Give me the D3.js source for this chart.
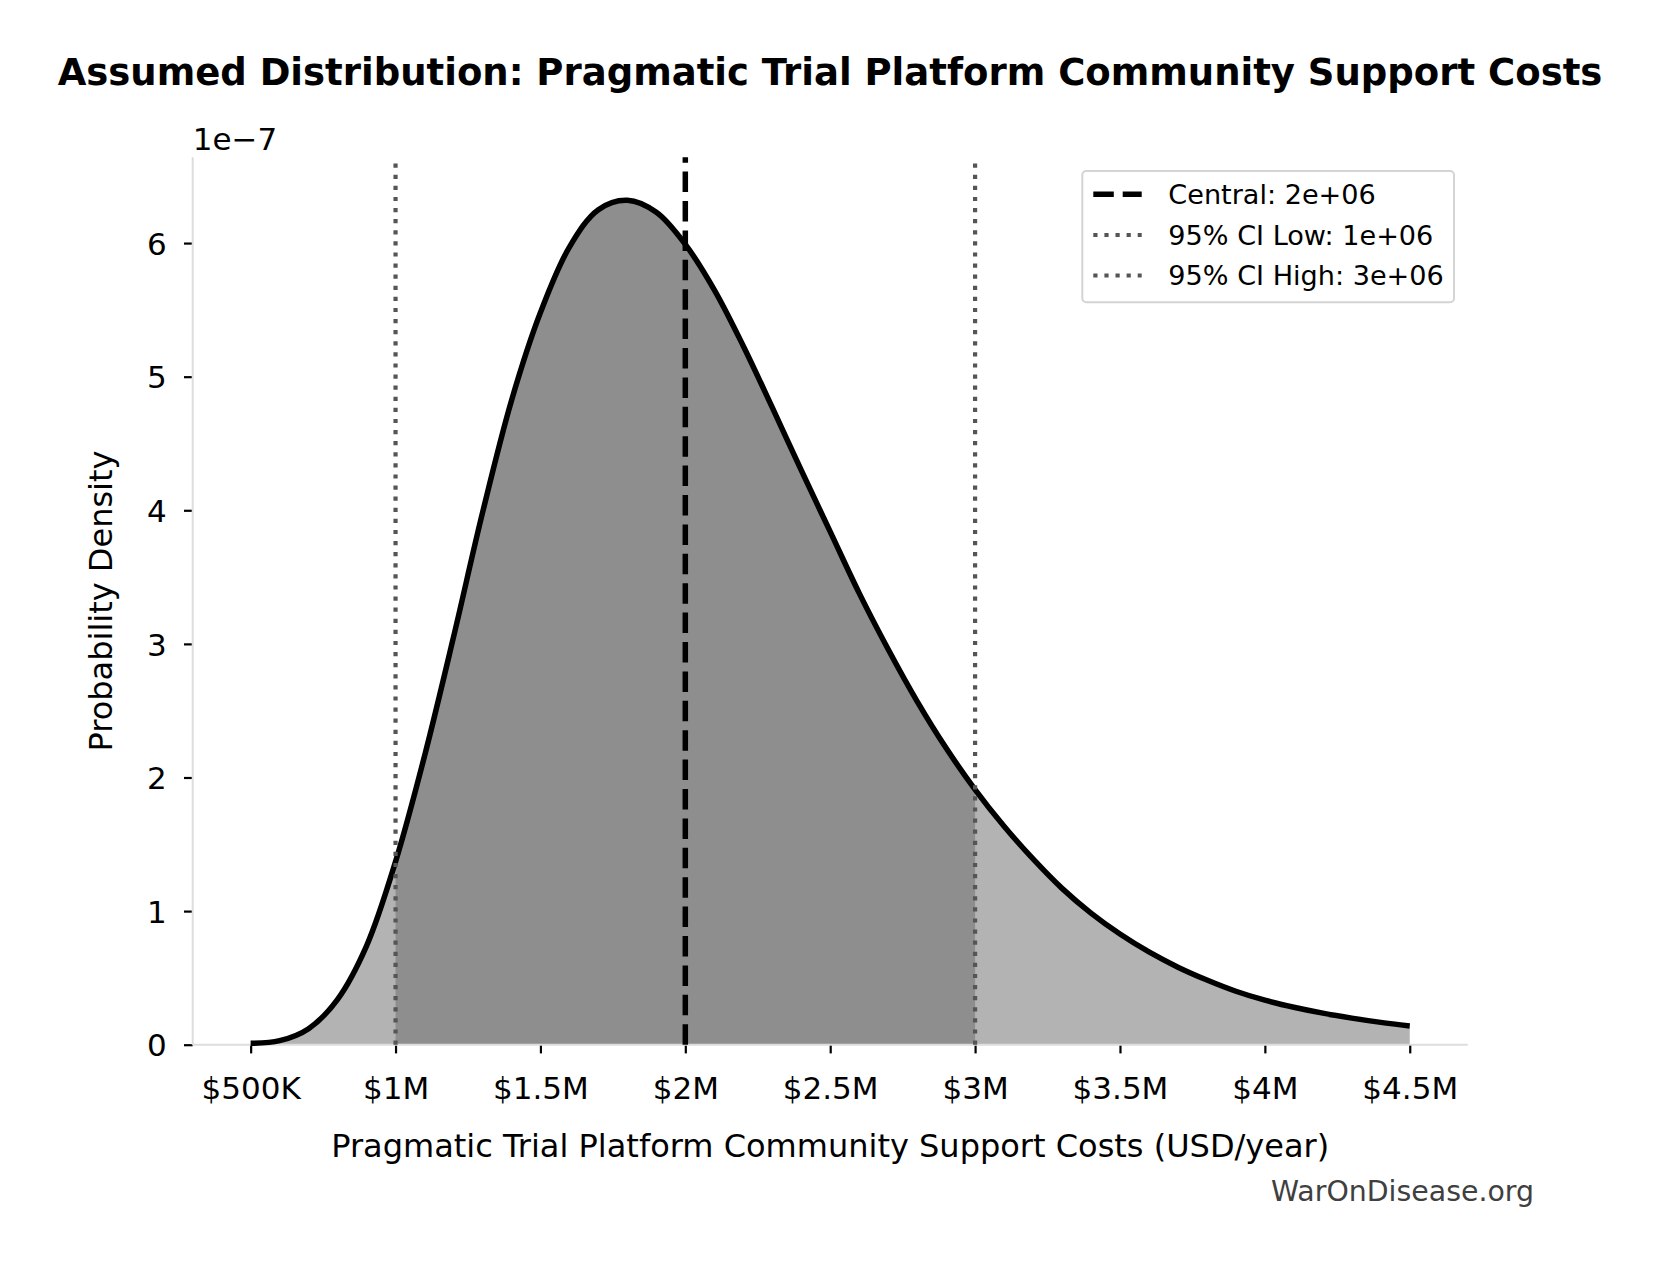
<!DOCTYPE html>
<html>
<head>
<meta charset="utf-8">
<script src="https://cdn.jsdelivr.net/npm/d3@7"></script>
<style>
  html, body { margin: 0; padding: 0; background: #ffffff; }
  svg { display: block; font-family: "DejaVu Sans", sans-serif; }
</style>
</head>
<body>
<svg id="chart" width="1660" height="1266"></svg>
<script>
// ---------------- data ----------------
const costUSD = [
  500000, 600000, 700000, 800000, 900000, 1000000, 1100000, 1200000, 1300000, 1400000,
  1500000, 1600000, 1700000, 1800000, 1900000, 2000000, 2100000, 2200000, 2300000, 2400000,
  2500000, 2600000, 2700000, 2800000, 2900000, 3000000, 3100000, 3200000, 3300000, 3400000,
  3500000, 3600000, 3700000, 3800000, 3900000, 4000000, 4100000, 4200000, 4300000, 4400000,
  4500000
];
// probability density, in units of 1e-7
const densityE7 = [
  0.01, 0.03, 0.12, 0.34, 0.74, 1.37, 2.16, 3.05, 3.98, 4.82,
  5.48, 5.97, 6.25, 6.32, 6.23, 5.99, 5.65, 5.23, 4.77, 4.30,
  3.84, 3.38, 2.96, 2.57, 2.22, 1.91, 1.635, 1.39, 1.17, 0.985,
  0.828, 0.694, 0.58, 0.484, 0.40, 0.333, 0.28, 0.236, 0.199, 0.167,
  0.14
];
const centralValue = 2000000;
const ciLow = 1000000;
const ciHigh = 3000000;

const xTickValues = [500000, 1000000, 1500000, 2000000, 2500000, 3000000, 3500000, 4000000, 4500000];
const xTickLabels = ["$500K", "$1M", "$1.5M", "$2M", "$2.5M", "$3M", "$3.5M", "$4M", "$4.5M"];
const yTickValues = [0, 1, 2, 3, 4, 5, 6];
const yTickLabels = ["0", "1", "2", "3", "4", "5", "6"];
const yOffsetLabel = "1e\u22127";

const legendLabels = ["Central: 2e+06", "95% CI Low: 1e+06", "95% CI High: 3e+06"];
const titleText = "Assumed Distribution: Pragmatic Trial Platform Community Support Costs";
const xLabelText = "Pragmatic Trial Platform Community Support Costs (USD/year)";
const yLabelText = "Probability Density";
const watermarkText = "WarOnDisease.org";

// ---------------- layout ----------------
const W = 1660, H = 1266;
const plot = { left: 192.7, right: 1467.7, top: 157.3, bottom: 1044.7 };
const xDomain = [300000, 4700000];
const yDomain = [0, 6.642];

const svg = d3.select("#chart");
svg.append("rect").attr("width", W).attr("height", H).attr("fill", "#ffffff");

const x = d3.scaleLinear().domain(xDomain).range([plot.left, plot.right]);
const y = d3.scaleLinear().domain(yDomain).range([plot.bottom, plot.top]);

const points = costUSD.map((c, i) => ({ x: c, y: densityE7[i] }));

const area = d3.area()
  .x(d => x(d.x))
  .y0(y(0))
  .y1(d => y(d.y))
  .curve(d3.curveCatmullRom.alpha(0.5));

const line = d3.line()
  .x(d => x(d.x))
  .y(d => y(d.y))
  .curve(d3.curveCatmullRom.alpha(0.5));

// clip for CI band
const defs = svg.append("defs");
defs.append("clipPath").attr("id", "ciClip")
  .append("rect")
  .attr("x", x(ciLow))
  .attr("y", plot.top - 20)
  .attr("width", x(ciHigh) - x(ciLow))
  .attr("height", plot.bottom - plot.top + 20);

// full light fill
svg.append("path").datum(points)
  .attr("d", area)
  .attr("fill", "#b3b3b3");

// CI dark fill
svg.append("path").datum(points)
  .attr("d", area)
  .attr("fill", "#8e8e8e")
  .attr("clip-path", "url(#ciClip)");

// ---------------- axes ----------------
const xAxis = d3.axisBottom(x)
  .tickValues(xTickValues)
  .tickFormat((d, i) => xTickLabels[i])
  .tickSize(8.7)
  .tickSizeOuter(0);

const gx = svg.append("g")
  .attr("transform", `translate(0,${plot.bottom})`)
  .call(xAxis);
gx.select(".domain").remove();
gx.selectAll(".tick line").attr("stroke", "#000").attr("stroke-width", 2.2);
gx.selectAll(".tick text")
  .attr("y", 54.6)
  .attr("dy", "0")
  .attr("fill", "#000")
  .style("font-family", "DejaVu Sans")
  .style("font-size", "31px");

const yAxis = d3.axisLeft(y)
  .tickValues(yTickValues)
  .tickFormat((d, i) => yTickLabels[i])
  .tickSize(8.7)
  .tickSizeOuter(0);

const gy = svg.append("g")
  .attr("transform", `translate(${plot.left},0)`)
  .call(yAxis);
gy.select(".domain").remove();
gy.selectAll(".tick line").attr("stroke", "#000").attr("stroke-width", 2.2);
gy.selectAll(".tick text")
  .attr("x", -26)
  .attr("dy", "0.36em")
  .attr("fill", "#000")
  .style("font-family", "DejaVu Sans")
  .style("font-size", "31px");

// spines (left & bottom, light gray)
svg.append("line")
  .attr("x1", plot.left).attr("x2", plot.left)
  .attr("y1", plot.top).attr("y2", plot.bottom)
  .attr("stroke", "#dddddd").attr("stroke-width", 2);
svg.append("line")
  .attr("x1", plot.left).attr("x2", plot.right)
  .attr("y1", plot.bottom).attr("y2", plot.bottom)
  .attr("stroke", "#dddddd").attr("stroke-width", 2);

// density curve
svg.append("path").datum(points)
  .attr("d", line)
  .attr("fill", "none")
  .attr("stroke", "#000")
  .attr("stroke-width", 5.5)
  .attr("stroke-linejoin", "round");

// vertical reference lines
function vline(v, color, width, dash) {
  svg.append("line")
    .attr("x1", x(v)).attr("x2", x(v))
    .attr("y1", plot.bottom).attr("y2", plot.top)
    .attr("stroke", color)
    .attr("stroke-width", width)
    .attr("stroke-dasharray", dash)
    .attr("stroke-linecap", "butt");
}
vline(ciLow, "#555555", 4.2, "4.2 6.9");
vline(ciHigh, "#555555", 4.2, "4.2 6.9");
vline(centralValue, "#000000", 5.5, "20.5 8.9");

// offset label
svg.append("text")
  .attr("x", plot.left)
  .attr("y", 150)
  .attr("font-size", 31)
  .attr("fill", "#000")
  .text(yOffsetLabel);

// ---------------- legend ----------------
const lg = svg.append("g");
lg.append("rect")
  .attr("x", 1082.3).attr("y", 171)
  .attr("width", 371.7).attr("height", 131.3)
  .attr("rx", 4).attr("ry", 4)
  .attr("fill", "#ffffff").attr("fill-opacity", 0.8)
  .attr("stroke", "#d4d4d4").attr("stroke-width", 2);

const legendStyles = [
  { color: "#000000", width: 5.5, dash: "20.5 8.9" },
  { color: "#555555", width: 4.2, dash: "4.2 6.9" },
  { color: "#555555", width: 4.2, dash: "4.2 6.9" }
];
const rowY = [194.3, 235, 275.5];
legendLabels.forEach((lab, i) => {
  lg.append("line")
    .attr("x1", 1093.3).attr("x2", 1141.7)
    .attr("y1", rowY[i]).attr("y2", rowY[i])
    .attr("stroke", legendStyles[i].color)
    .attr("stroke-width", legendStyles[i].width)
    .attr("stroke-dasharray", legendStyles[i].dash);
  lg.append("text")
    .attr("x", 1168.3)
    .attr("y", rowY[i])
    .attr("dy", "0.36em")
    .attr("font-size", 27.1)
    .attr("fill", "#000")
    .text(lab);
});

// ---------------- titles ----------------
svg.append("text")
  .attr("x", 830).attr("y", 85)
  .attr("text-anchor", "middle")
  .attr("font-size", 37)
  .attr("font-weight", "bold")
  .attr("fill", "#000")
  .text(titleText);

svg.append("text")
  .attr("x", (plot.left + plot.right) / 2).attr("y", 1157.3)
  .attr("text-anchor", "middle")
  .attr("font-size", 32)
  .attr("fill", "#000")
  .text(xLabelText);

svg.append("text")
  .attr("transform", `translate(111.7,${(plot.top + plot.bottom) / 2}) rotate(-90)`)
  .attr("text-anchor", "middle")
  .attr("font-size", 32)
  .attr("fill", "#000")
  .text(yLabelText);

svg.append("text")
  .attr("x", 1534).attr("y", 1200.7)
  .attr("text-anchor", "end")
  .attr("font-size", 28.4)
  .attr("fill", "#404040")
  .text(watermarkText);
</script>
</body>
</html>
